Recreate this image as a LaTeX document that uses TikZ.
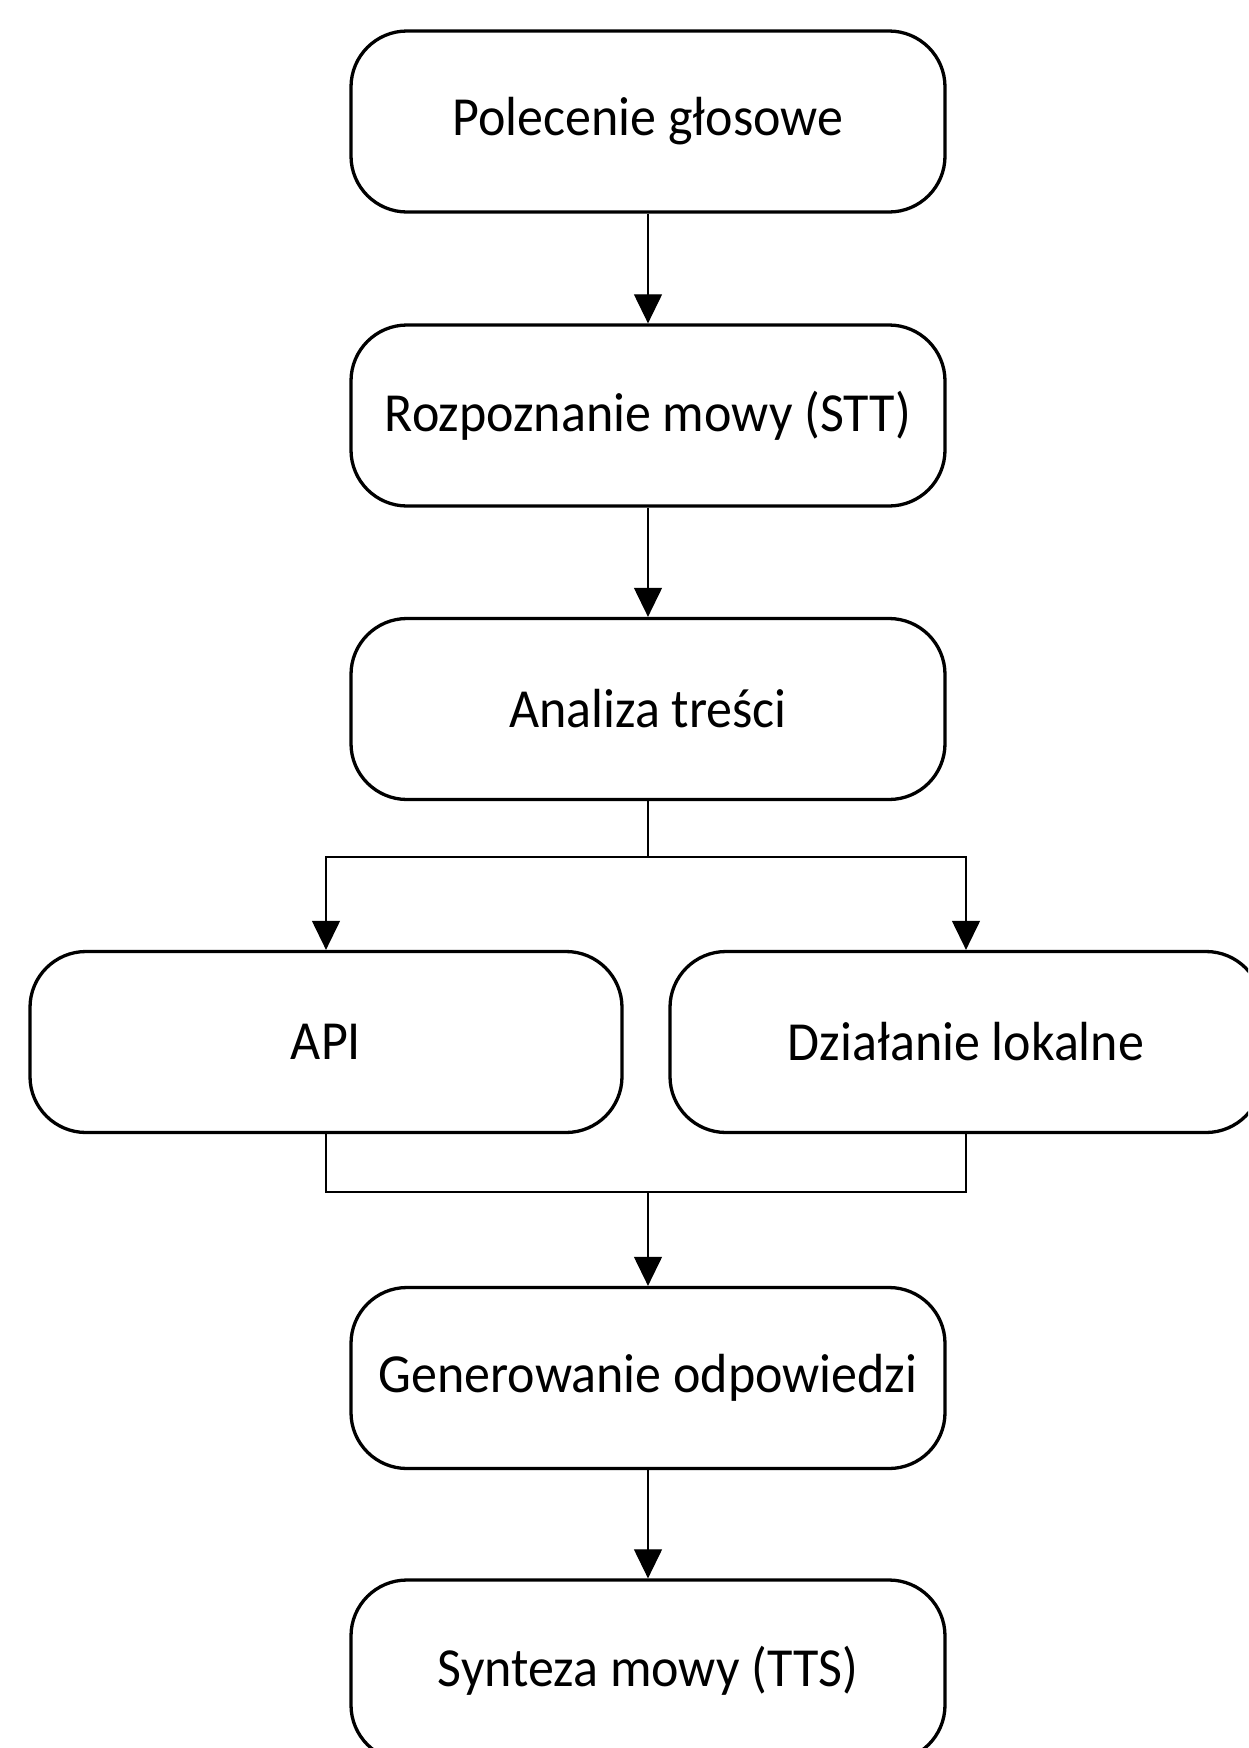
\documentclass[tikz,border=0pt]{standalone}
\usepackage{fontspec}
\setmainfont{Carlito}
\usetikzlibrary{arrows.meta}
\newcommand{\boxtext}[1]{\scalebox{1}[1.06]{#1}}
\begin{document}
\begin{tikzpicture}[x=1pt,y=-1pt,
  box/.style={draw=black, line width=3.3pt, rounded corners=56pt, minimum width=594pt, minimum height=181pt, inner sep=0pt, font=\fontsize{52}{60}\selectfont, fill=white},
  conn/.style={draw=black, line width=1.2pt},
  arr/.style={conn, -{Triangle[width=28pt,length=29pt]}}]
\useasboundingbox (0,0) rectangle (1248,1748);
\clip (0,0) rectangle (1248,1748);
\fill[white] (0,0) rectangle (1248,1748);
\node[box] (b1) at (648,121.5) {\boxtext{Polecenie głosowe}};
\node[box] (b2) at (648,415.5) {\boxtext{Rozpoznanie mowy (STT)}};
\node[box] (b3) at (648,709) {\boxtext{Analiza treści}};
\node[box, minimum width=592pt] (api) at (326,1042) {\boxtext{API}};
\node[box, minimum width=592pt] (loc) at (966,1042) {\boxtext{Działanie lokalne}};
\node[box] (gen) at (648,1378) {\boxtext{Generowanie odpowiedzi}};
\node[box] (tts) at (648,1670.5) {\boxtext{Synteza mowy (TTS)}};
\coordinate (split) at (648,857);
\coordinate (merge) at (648,1192);
\draw[arr] (b1) -- (b2);
\draw[arr] (b2) -- (b3);
\draw[conn] (b3) -- (split);
\draw[arr] (split) -| (api);
\draw[arr] (split) -| (loc);
\draw[conn] (api) |- (merge);
\draw[conn] (loc) |- (merge);
\draw[arr] (merge) -- (gen);
\draw[arr] (gen) -- (tts);
\end{tikzpicture}
\end{document}
